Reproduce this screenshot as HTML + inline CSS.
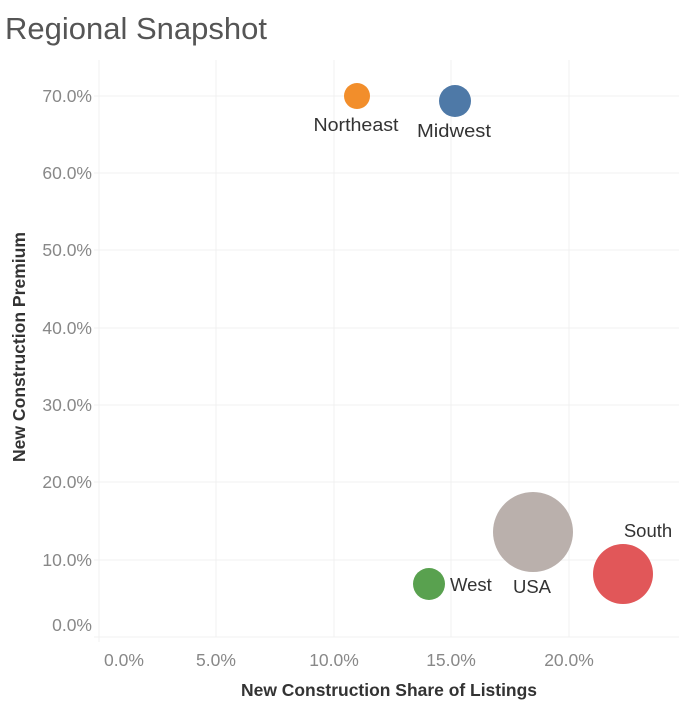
<!DOCTYPE html><html><head><style>body{margin:0;background:#fff}svg{display:block}</style></head><body>
<svg width="679" height="708" xmlns="http://www.w3.org/2000/svg" font-family="Liberation Sans, DejaVu Sans, sans-serif">
<text x="5" y="39" font-size="31" fill="#555" textLength="262" lengthAdjust="spacingAndGlyphs">Regional Snapshot</text>
<g stroke="#f0f0f0" stroke-width="1">
<line x1="99" y1="96" x2="679" y2="96"/><line x1="99" y1="173" x2="679" y2="173"/><line x1="99" y1="250" x2="679" y2="250"/><line x1="99" y1="328" x2="679" y2="328"/><line x1="99" y1="405" x2="679" y2="405"/><line x1="99" y1="482" x2="679" y2="482"/><line x1="99" y1="560" x2="679" y2="560"/>
<line x1="216" y1="60" x2="216" y2="637"/><line x1="334" y1="60" x2="334" y2="637"/><line x1="451" y1="60" x2="451" y2="637"/><line x1="569" y1="60" x2="569" y2="637"/>
<line x1="99" y1="60" x2="99" y2="642"/><line x1="94" y1="637" x2="679" y2="637"/>
<line x1="94" y1="96" x2="99" y2="96"/><line x1="94" y1="173" x2="99" y2="173"/><line x1="94" y1="250" x2="99" y2="250"/><line x1="94" y1="328" x2="99" y2="328"/><line x1="94" y1="405" x2="99" y2="405"/><line x1="94" y1="482" x2="99" y2="482"/><line x1="94" y1="560" x2="99" y2="560"/>
</g>
<g font-size="17.5" fill="#888" text-anchor="end">
<text x="92" y="102">70.0%</text><text x="92" y="179">60.0%</text><text x="92" y="256">50.0%</text><text x="92" y="334">40.0%</text><text x="92" y="411">30.0%</text><text x="92" y="488">20.0%</text><text x="92" y="566">10.0%</text><text x="92" y="631">0.0%</text>
</g>
<g font-size="17.5" fill="#888" text-anchor="middle">
<text x="124" y="666">0.0%</text><text x="216" y="666">5.0%</text><text x="334" y="666">10.0%</text><text x="451" y="666">15.0%</text><text x="569" y="666">20.0%</text>
</g>
<text x="389" y="696" font-size="17.5" font-weight="bold" fill="#333" text-anchor="middle" textLength="296" lengthAdjust="spacingAndGlyphs">New Construction Share of Listings</text>
<text transform="translate(25,347) rotate(-90)" font-size="17.5" font-weight="bold" fill="#333" text-anchor="middle" textLength="230" lengthAdjust="spacingAndGlyphs">New Construction Premium</text>
<circle cx="533" cy="532" r="40" fill="#bab0ac"/>
<circle cx="623" cy="574" r="30" fill="#e15759"/>
<circle cx="429" cy="584" r="16" fill="#59a14f"/>
<circle cx="455" cy="101" r="16" fill="#4e79a7"/>
<circle cx="357" cy="96" r="13" fill="#f28e2b"/>
<g font-size="18.5" fill="#333">
<text x="356" y="131" text-anchor="middle" textLength="85" lengthAdjust="spacingAndGlyphs">Northeast</text>
<text x="454" y="137" text-anchor="middle" textLength="74" lengthAdjust="spacingAndGlyphs">Midwest</text>
<text x="450" y="591">West</text>
<text x="532" y="593" text-anchor="middle">USA</text>
<text x="648" y="537" text-anchor="middle">South</text>
</g>
</svg></body></html>
